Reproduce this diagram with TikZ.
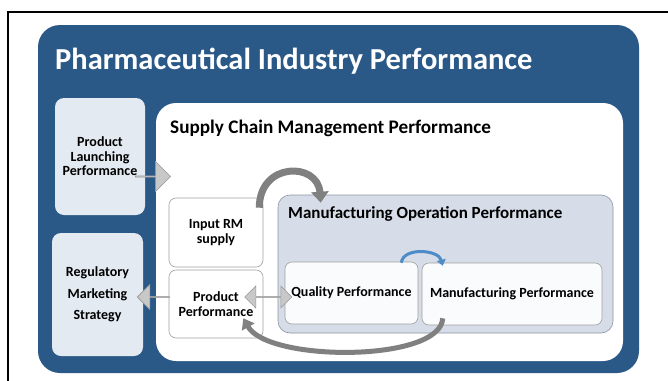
\documentclass[tikz,border=0pt]{standalone}
\usepackage{fontspec}
\setmainfont{Carlito}
\usetikzlibrary{shapes.arrows,arrows.meta,calc}
\definecolor{pharmablue}{RGB}{43,89,135}
\definecolor{sidefill}{RGB}{228,234,241}
\definecolor{opfill}{RGB}{214,221,232}
\definecolor{opline}{RGB}{140,148,160}
\definecolor{boxline}{RGB}{160,160,160}
\definecolor{innerfill}{RGB}{250,251,252}
\definecolor{arrowfill}{RGB}{200,200,200}
\definecolor{arrowline}{RGB}{150,150,150}
\definecolor{bendgray}{RGB}{128,128,128}
\definecolor{bendblue}{RGB}{78,140,200}
\begin{document}
\begin{tikzpicture}[x=1pt, y=-1pt,
                    bluebox/.style={fill=pharmablue, rounded corners=22pt, minimum width=601pt, minimum height=348pt},
                    heading/.style={anchor=base west, inner sep=0pt},
                    sidebox/.style={fill=sidefill, rounded corners=9pt, minimum width=90pt, align=center, font=\fontsize{14}{14.5}\selectfont\bfseries},
                    whitebox/.style={draw=boxline, fill=white, line width=0.6pt, rounded corners=7pt, align=center, font=\fontsize{14}{14.5}\selectfont\bfseries},
                    blockarrow/.style={draw=arrowline, fill=arrowfill, line width=0.6pt, inner sep=0pt},
                    bendarrow/.style={draw=bendgray, line width=7pt, -{Triangle[length=11pt, width=17pt]}}]
\useasboundingbox (0,0) rectangle (668,380);
\draw[line width=2pt] (8,12) rectangle (690,400);

\node[bluebox] (industry) at (338.5,199) {};
\node[heading, text=white, font=\fontsize{30.5}{32}\selectfont\bfseries] (industrytitle) at (55,69) {Pharmaceutical Industry Performance};

\node[sidebox, minimum height=117pt] (launch) at (100,156.5) {Product\\Launching\\Performance};
\node[sidebox, minimum height=123pt, minimum width=91pt] (regulatory) at (97.5,294.5) {Regulatory\\[7pt]Marketing\\[7pt]Strategy};

\node[fill=white, rounded corners=20pt, minimum width=467pt, minimum height=258pt] (supply) at (389.5,232) {};
\node[heading, font=\fontsize{19.2}{21}\selectfont\bfseries] (supplytitle) at (170,133) {Supply Chain Management Performance};

\node[whitebox, minimum width=94pt, minimum height=69pt] (inputrm) at (216,232.5) {Input RM\\supply};
\node[whitebox, minimum width=94pt, minimum height=68pt] (prodperf) at (216,304) {Product\\Performance};

\node[draw=opline, fill=opfill, line width=0.6pt, rounded corners=12pt, minimum width=335pt, minimum height=138pt] (mfgop) at (445.5,264) {};
\node[heading, font=\fontsize{17}{19}\selectfont\bfseries] (mfgoptitle) at (288,218) {Manufacturing Operation Performance};

\node[whitebox, fill=innerfill, minimum width=133pt, minimum height=62pt] (quality) at (351.5,293) {Quality Performance};
\node[whitebox, fill=innerfill, minimum width=180pt, minimum height=62pt] (mfgperf) at (512,294) {Manufacturing Performance};

\node[blockarrow, single arrow, single arrow head extend=7pt, minimum width=30pt, minimum height=35pt, anchor=tail] (launcharrow) at ($(launch.east)+(-10,20)$) {};
\node[blockarrow, single arrow, shape border rotate=180, single arrow head extend=6pt, minimum width=25pt, minimum height=32pt, anchor=tail] (regarrow) at ($(prodperf.west)+(1,-7)$) {};
\node[blockarrow, double arrow, double arrow head extend=5pt, minimum width=22pt, minimum height=47pt] (qualityarrow) at ($(prodperf.east)+(5,-7)$) {};

\draw[bendarrow] ($(inputrm.north east)+(-4,10)$) .. controls +(0,-46) and +(-3,-41) .. ($(mfgop.north west)+(43,8)$);
\draw[draw=bendblue, line width=3pt, -{Triangle[length=6pt, width=9pt]}] ($(quality.north east)+(-17,1)$) .. controls +(2,-16) and +(-4,-16) .. ($(mfgperf.north west)+(21,3)$);
\draw[draw=bendgray, line width=5pt, -{Triangle[length=10pt, width=14pt]}] ($(mfgperf.south west)+(21,-7)$) .. controls +(-2,44) and +(25,44) .. ($(prodperf.south east)+(-20,-20)$);
\end{tikzpicture}
\end{document}
